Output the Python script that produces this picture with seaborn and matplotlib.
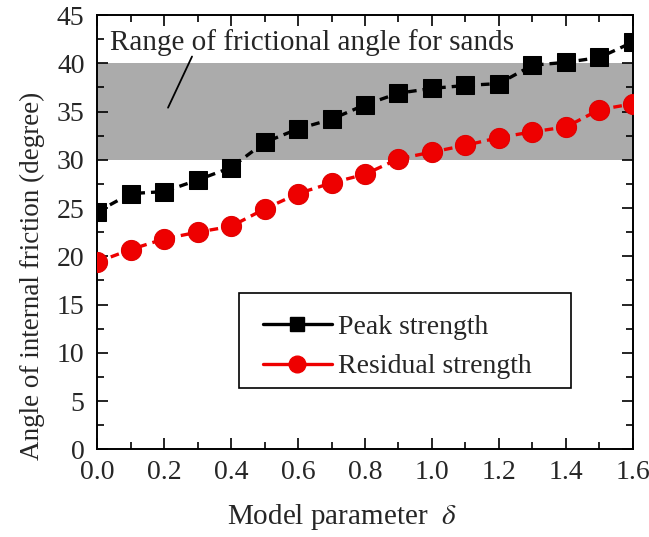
import numpy as np
import pandas as pd
import matplotlib
matplotlib.use("Agg")
import matplotlib.pyplot as plt
from matplotlib.lines import Line2D
from matplotlib.patches import Rectangle
import seaborn as sns

# Model parameter delta
delta = [0.0, 0.1, 0.2, 0.3, 0.4, 0.5, 0.6, 0.7, 0.8,
         0.9, 1.0, 1.1, 1.2, 1.3, 1.4, 1.5, 1.6]
# Angle of internal friction (degree)
peak = [24.6, 26.5, 26.7, 27.9, 29.2, 31.8, 33.2, 34.2, 35.7,
        36.9, 37.4, 37.7, 37.9, 39.8, 40.1, 40.6, 42.2]
residual = [19.4, 20.7, 21.8, 22.5, 23.1, 24.9, 26.5, 27.6, 28.5,
            30.1, 30.8, 31.5, 32.3, 32.9, 33.4, 35.2, 35.8]

sand_range = (30, 40)
x_ticks = [0.0, 0.2, 0.4, 0.6, 0.8, 1.0, 1.2, 1.4, 1.6]
y_ticks = [0, 5, 10, 15, 20, 25, 30, 35, 40, 45]

sns.set_style("ticks")
plt.rcParams["font.family"] = ["Liberation Serif", "DejaVu Serif"]
plt.rcParams["mathtext.fontset"] = "stix"

fig = plt.figure(figsize=(6.49, 5.37), dpi=100)
ax = fig.add_axes([0.1495, 0.1633, 0.8258, 0.8087])

df = pd.DataFrame({"delta": delta, "peak": peak, "residual": residual})

ax.axhspan(*sand_range, color="#ababab", lw=0, zorder=0)

dash = (0, (2.6, 1.8))
sns.lineplot(data=df, x="delta", y="peak", ax=ax, color="black",
             marker="s", markersize=12.5, markeredgecolor="black",
             linewidth=2.4, linestyle=dash, zorder=3)
sns.lineplot(data=df, x="delta", y="residual", ax=ax, color="#ee0000",
             marker="o", markersize=14.5, markeredgecolor="#e00000",
             linewidth=2.4, linestyle=dash, zorder=3)

ax.set_xlim(0, 1.6)
ax.set_ylim(0, 45)
ax.set_xticks(x_ticks)
ax.set_xticklabels([f"{v:.1f}" for v in x_ticks])
ax.set_yticks(y_ticks)
ax.set_xticks(np.arange(0.1, 1.6, 0.2), minor=True)
ax.set_yticks(np.arange(2.5, 45, 5), minor=True)
ax.tick_params(which="both", direction="in", top=True, right=True,
               labelsize=20, width=1.2, color="black")
ax.tick_params(axis="x", which="major", pad=8)
ax.tick_params(axis="y", which="major", pad=9)
ax.tick_params(which="major", length=8)
ax.tick_params(which="minor", length=5)
for s in ax.spines.values():
    s.set_linewidth(1.4)
    s.set_color("black")

ax.set_xlabel(r"Model parameter  $\delta$", fontsize=21)
ax.xaxis.set_label_coords(0.457, -0.122)
ax.set_ylabel("Angle of internal friction (degree)", fontsize=19.5)
ax.yaxis.set_label_coords(-0.097, 0.40)

ax.text(0.04, 41.4, "Range of frictional angle for sands", fontsize=21,
        va="baseline", ha="left", zorder=4)
ax.plot([0.2836, 0.212], [40.7, 35.4], color="black", lw=1.3, zorder=4)

# legend box
ax.add_patch(Rectangle((0.265, 0.142), 0.619, 0.217, transform=ax.transAxes,
                       facecolor="white", edgecolor="black", lw=1.2,
                       zorder=5))
handles = [
    Line2D([], [], color="black", marker="s", markersize=10, lw=2.4,
           label="Peak strength"),
    Line2D([], [], color="#ee0000", marker="o", markersize=12, lw=2.4,
           label="Residual strength"),
]
leg = ax.legend(handles=handles, loc="upper left",
                bbox_to_anchor=(0.309, 0.31), fontsize=20, frameon=False,
                handlelength=2.5, handletextpad=0.2, borderpad=0.0,
                borderaxespad=0.0, labelspacing=0.5)
leg.set_zorder(6)

fig.savefig("out.png", dpi=100)
